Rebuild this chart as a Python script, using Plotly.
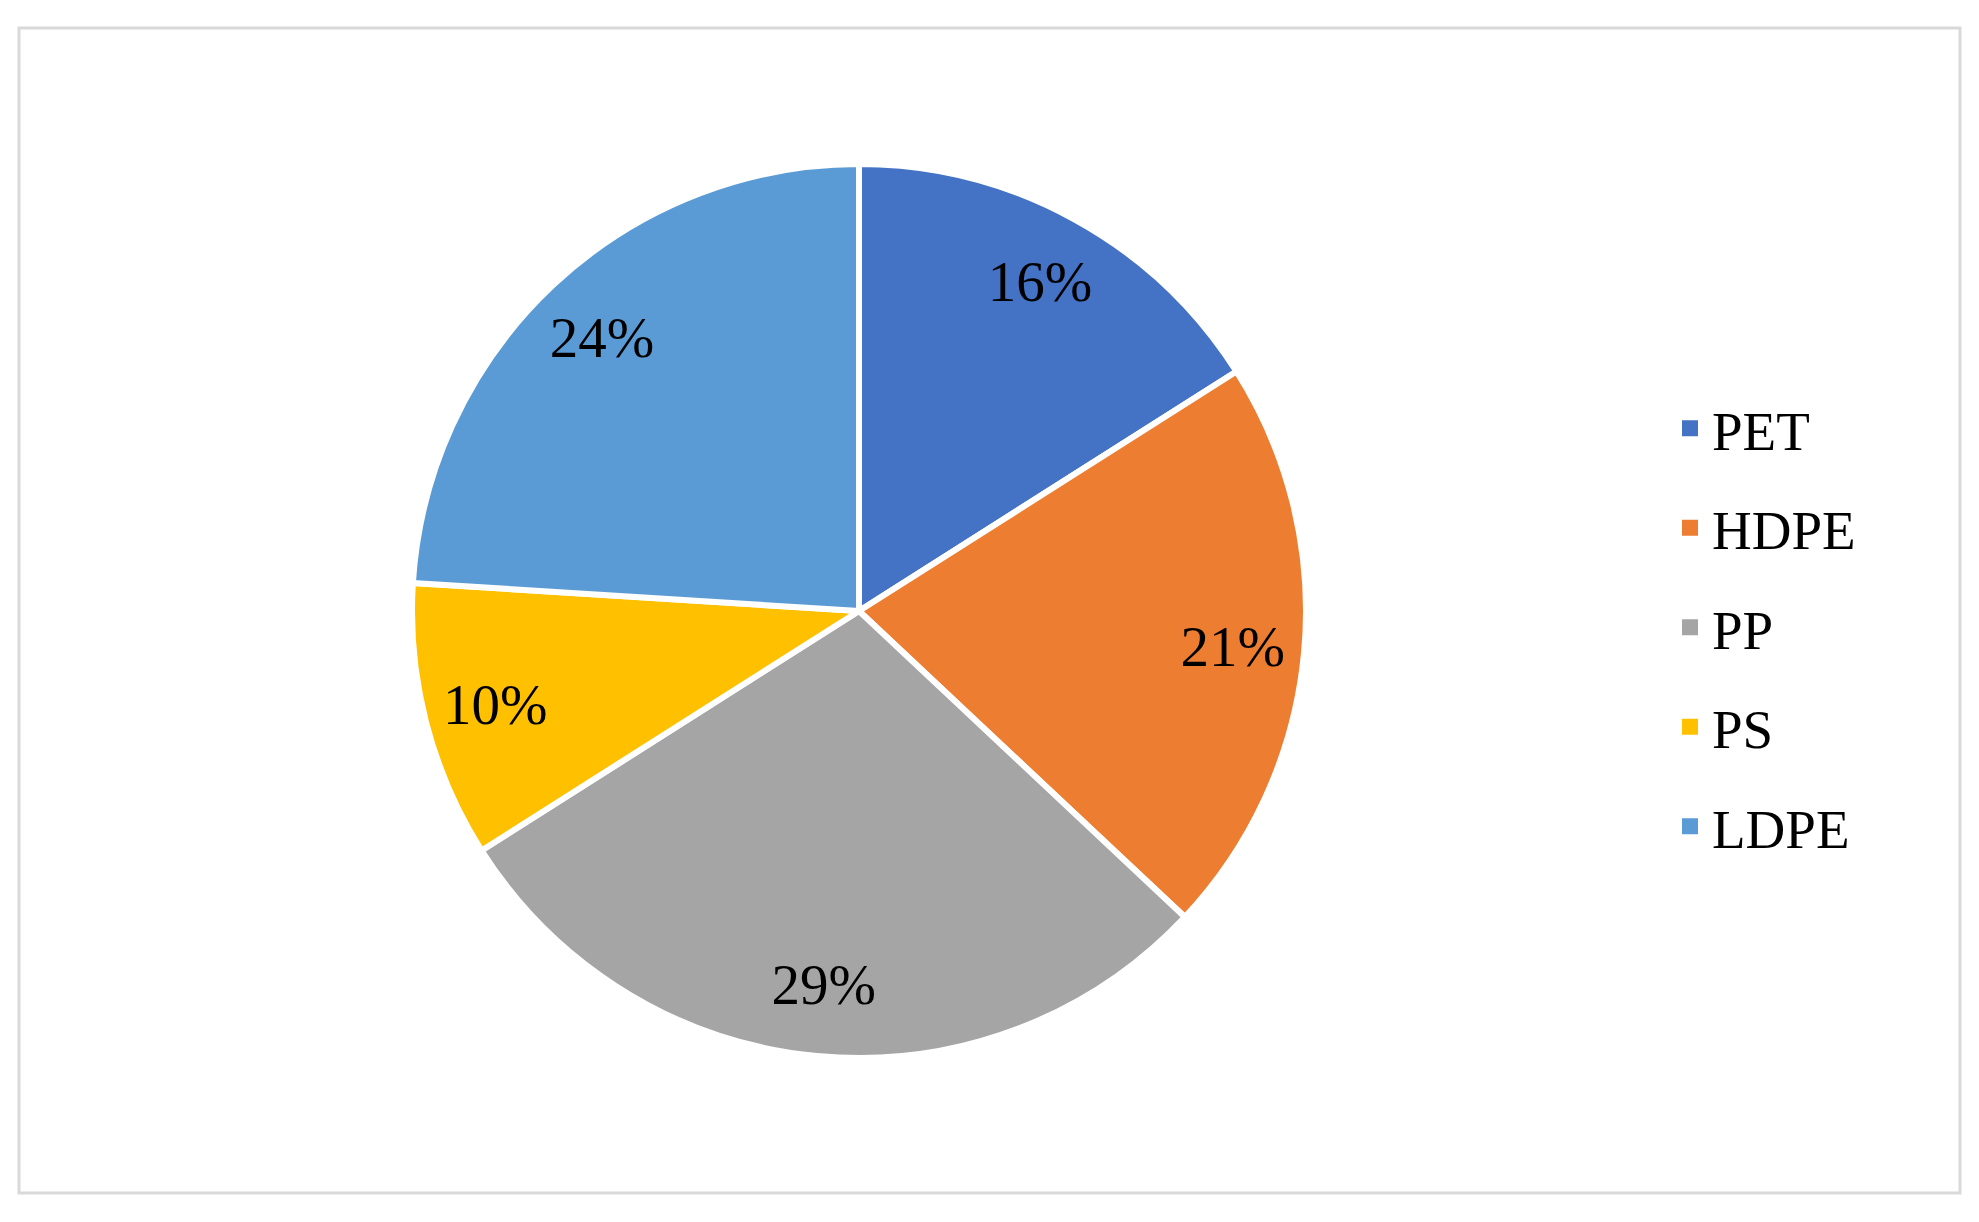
import plotly.graph_objects as go

labels = ["PET", "HDPE", "PP", "PS", "LDPE"]
values = [16, 21, 29, 10, 24]
colors = ["#4472C4", "#ED7D31", "#A5A5A5", "#FFC000", "#5B9BD5"]

W, H = 1979, 1222
FONT = "Liberation Serif"
DOMAIN = dict(x=[(859 - 447) / W, (859 + 447) / W], y=[1 - 1058 / H, 1 - 164 / H])

fig = go.Figure()

# Main pie (colored slices)
fig.add_trace(go.Pie(
    labels=labels, values=values, sort=False, direction="clockwise", rotation=0,
    marker=dict(colors=colors, line=dict(color="white", width=6)),
    textinfo="none", hoverinfo="label+percent", showlegend=False,
    domain=DOMAIN,
))
# Transparent ring carrying the percentage labels at ~0.83 R
fig.add_trace(go.Pie(
    labels=labels, values=values, sort=False, direction="clockwise", rotation=0,
    hole=0.68,
    marker=dict(colors=["rgba(0,0,0,0)"] * len(labels), line=dict(width=0)),
    textinfo="percent", textposition="inside", insidetextorientation="horizontal",
    textfont=dict(family=FONT, size=57, color="black"),
    hoverinfo="skip", showlegend=False,
    domain=DOMAIN,
))

# Legend entries
for lab, col in zip(labels, colors):
    fig.add_trace(go.Scatter(
        x=[None], y=[None], mode="markers", name=lab, legendgroup=lab,
        marker=dict(symbol="square", size=16, color=col),
    ))

fig.update_layout(
    width=W, height=H,
    margin=dict(l=0, r=0, t=0, b=0),
    paper_bgcolor="white", plot_bgcolor="white",
    xaxis=dict(visible=False), yaxis=dict(visible=False),
    legend=dict(
        x=1668 / W, xanchor="left", y=1 - 386 / H, yanchor="top",
        font=dict(family=FONT, size=55, color="black"),
        traceorder="grouped", tracegroupgap=25,
        itemwidth=34, bgcolor="rgba(0,0,0,0)",
    ),
    shapes=[dict(
        type="rect", xref="paper", yref="paper",
        x0=19 / W, x1=1960 / W, y0=1 - 1193 / H, y1=1 - 28 / H,
        line=dict(color="#D9D9D9", width=3), fillcolor="rgba(0,0,0,0)", layer="below",
    )],
)

fig.write_html("out.html", config={"displayModeBar": False},
               post_script="document.body.style.margin='0px';")
